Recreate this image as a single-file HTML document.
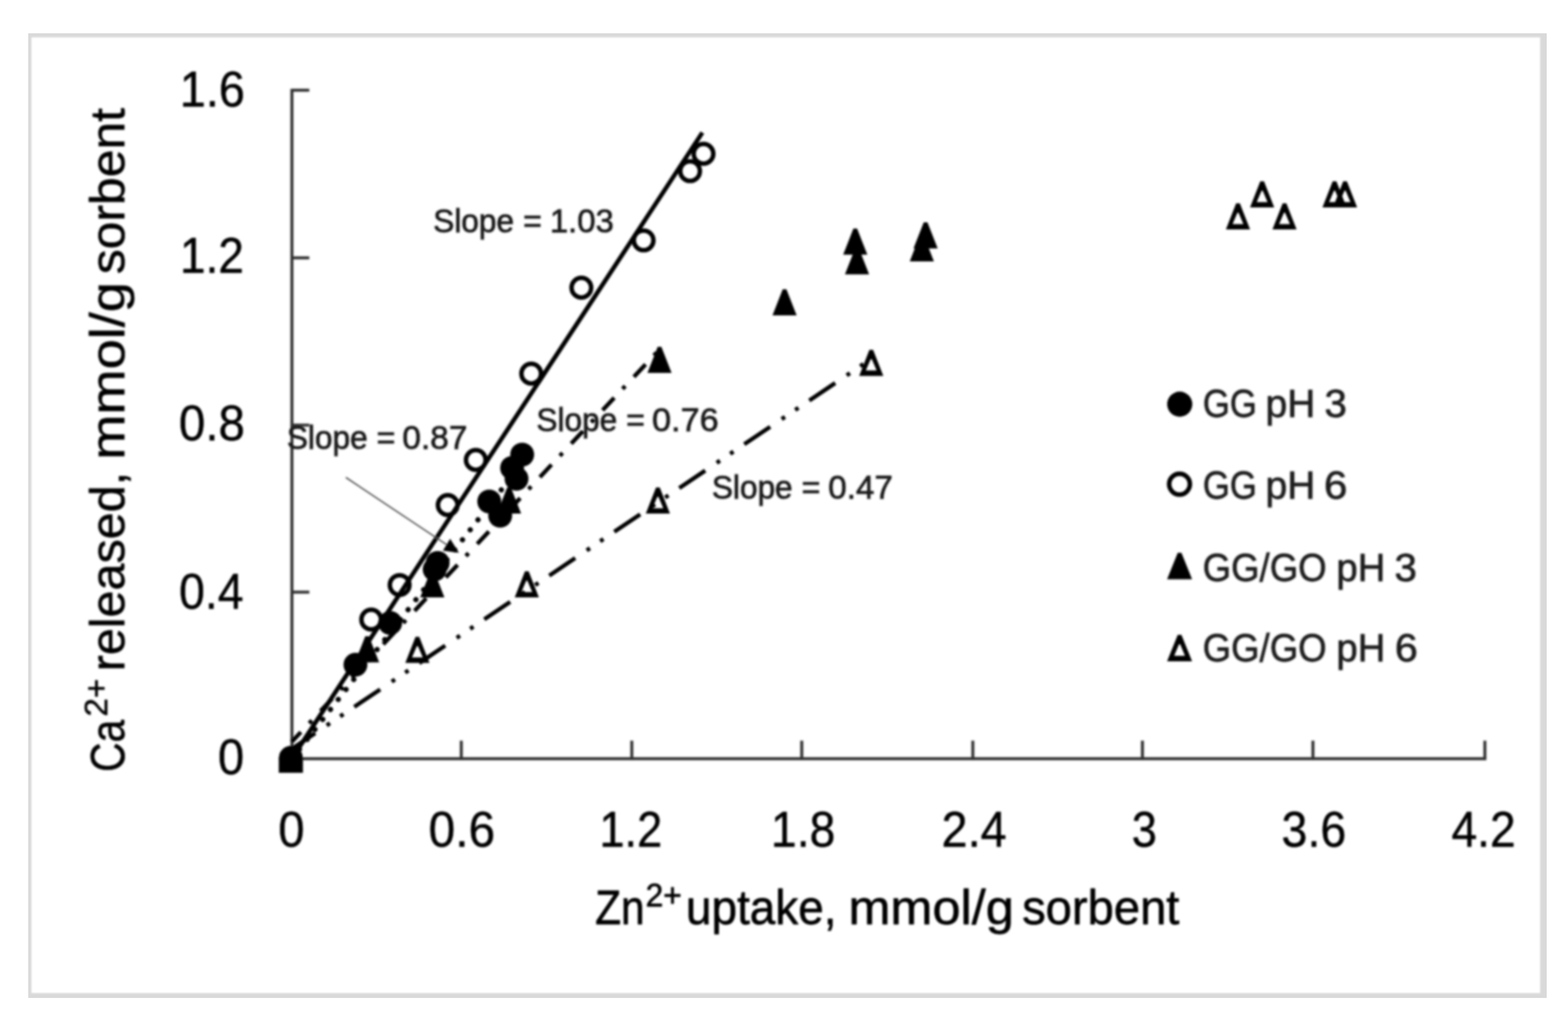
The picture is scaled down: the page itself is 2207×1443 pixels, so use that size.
<!DOCTYPE html>
<html lang="en">
<head>
<meta charset="utf-8">
<title>Ca2+ released vs Zn2+ uptake</title>
<style>
html,body{margin:0;padding:0;background:#fff;}
body{width:2207px;height:1443px;}
svg{display:block;font-family:"Liberation Sans",sans-serif;}
</style>
</head>
<body>
<svg width="2207" height="1443" viewBox="0 0 2207 1443">
<defs>
<filter id="soft" x="0" y="0" width="2207" height="1443" filterUnits="userSpaceOnUse"><feGaussianBlur stdDeviation="1.6"/></filter>
<filter id="soft2" x="0" y="0" width="2207" height="1443" filterUnits="userSpaceOnUse"><feGaussianBlur stdDeviation="1.3"/></filter>
</defs>
<rect width="2207" height="1443" fill="#fff"/>
<g id="frame"><rect x="39.7" y="46.8" width="2137.3" height="1358.1" fill="#d9d9d9"/>
<rect x="44.3" y="52.6" width="2123.4" height="1345.4" fill="#fff" filter="url(#soft2)"/></g>
<g filter="url(#soft)">
<g id="axes" stroke="#303030" stroke-width="4.2" fill="none" stroke-linecap="butt">
<path d="M410.9 124.9V1070.3"/>
<path d="M408.79999999999995 1068.2H2092.1"/>
<path d="M649.3 1068.2V1042.7"/>
<path d="M889.3 1068.2V1042.7"/>
<path d="M1128.5 1068.2V1042.7"/>
<path d="M1369.3 1068.2V1042.7"/>
<path d="M1608 1068.2V1042.7"/>
<path d="M1848 1068.2V1042.7"/>
<path d="M2090 1068.2V1042.7"/>
<path d="M410.9 833.6H435.4"/>
<path d="M410.9 598.5H435.4"/>
<path d="M410.9 363H435.4"/>
<path d="M410.9 127H435.4"/>
</g>
<g id="ticks" stroke="#000" stroke-width="0.6" stroke-linejoin="round">
<text font-size="69.6" fill="#000"><tspan x="253.05" y="150.00" textLength="91.77" lengthAdjust="spacingAndGlyphs">1.6</tspan></text>
<text font-size="69.6" fill="#000"><tspan x="253.14" y="384.30" textLength="90.12" lengthAdjust="spacingAndGlyphs">1.2</tspan></text>
<text font-size="69.6" fill="#000"><tspan x="251.82" y="620.30" textLength="93.03" lengthAdjust="spacingAndGlyphs">0.8</tspan></text>
<text font-size="69.6" fill="#000"><tspan x="251.88" y="856.50" textLength="90.93" lengthAdjust="spacingAndGlyphs">0.4</tspan></text>
<text font-size="69.6" fill="#000"><tspan x="306.64" y="1090.30" textLength="36.92" lengthAdjust="spacingAndGlyphs">0</tspan></text>
<text font-size="69.6" fill="#000"><tspan x="391.64" y="1191.50" textLength="36.92" lengthAdjust="spacingAndGlyphs">0</tspan></text>
<text font-size="69.6" fill="#000"><tspan x="603.31" y="1191.50" textLength="93.57" lengthAdjust="spacingAndGlyphs">0.6</tspan></text>
<text font-size="69.6" fill="#000"><tspan x="843.73" y="1191.50" textLength="88.47" lengthAdjust="spacingAndGlyphs">1.2</tspan></text>
<text font-size="69.6" fill="#000"><tspan x="1085.11" y="1191.50" textLength="90.68" lengthAdjust="spacingAndGlyphs">1.8</tspan></text>
<text font-size="69.6" fill="#000"><tspan x="1325.31" y="1191.50" textLength="91.51" lengthAdjust="spacingAndGlyphs">2.4</tspan></text>
<text font-size="69.6" fill="#000"><tspan x="1592.92" y="1191.50" textLength="35.36" lengthAdjust="spacingAndGlyphs">3</tspan></text>
<text font-size="69.6" fill="#000"><tspan x="1803.85" y="1191.50" textLength="90.95" lengthAdjust="spacingAndGlyphs">3.6</tspan></text>
<text font-size="69.6" fill="#000"><tspan x="2043.04" y="1191.50" textLength="90.22" lengthAdjust="spacingAndGlyphs">4.2</tspan></text>
</g>
<g id="xtitle" stroke="#000" stroke-width="0.9" stroke-linejoin="round">
<text font-size="68.8" fill="#000"><tspan x="837.66" y="1300.60" textLength="69.64" lengthAdjust="spacingAndGlyphs">Zn</tspan><tspan x="908.77" y="1276.40" font-size="46.6" textLength="50.87" lengthAdjust="spacingAndGlyphs">2+</tspan> <tspan x="965.60" y="1300.60" textLength="211.83" lengthAdjust="spacingAndGlyphs">uptake,</tspan> <tspan x="1194.21" y="1300.60" textLength="232.69" lengthAdjust="spacingAndGlyphs">mmol/g</tspan> <tspan x="1438.67" y="1300.60" textLength="221.36" lengthAdjust="spacingAndGlyphs">sorbent</tspan></text>
</g>
<g id="ytitle" stroke="#000" stroke-width="0.7" stroke-linejoin="round">
<text transform="rotate(-90)" font-size="68.8" fill="#000"><tspan x="-1086.68" y="174.50" textLength="73.53" lengthAdjust="spacingAndGlyphs">Ca</tspan><tspan x="-1008.73" y="151.00" font-size="45.6" textLength="53.06" lengthAdjust="spacingAndGlyphs">2+</tspan> <tspan x="-945.11" y="174.50" textLength="280.85" lengthAdjust="spacingAndGlyphs">released,</tspan> <tspan x="-647.36" y="174.50" textLength="250.40" lengthAdjust="spacingAndGlyphs">mmol/g</tspan> <tspan x="-386.13" y="174.50" textLength="234.09" lengthAdjust="spacingAndGlyphs">sorbent</tspan></text>
</g>
<g id="lines" fill="none" stroke="#000">
<path d="M410.5 1068.2L988.6 186.6" stroke-width="6.2"/>
<path d="M410.5 1069.0L741.0 644.1" stroke-width="7.4" stroke-linecap="round" stroke-dasharray="0.01 17.79"/>
<path d="M410.5 1044.5L928.0 492.3" stroke-width="5.8" stroke-dasharray="24 17.1 5.5 17.9" stroke-dashoffset="5"/>
<path d="M410.5 1054.5L1226.0 505.3" stroke-width="5.8" stroke-dasharray="44 19.5 5.5 17.4 5.5 18.4" stroke-dashoffset="4"/>
</g>
<g id="arrow">
<path d="M486.8 672.2L632 769" stroke="#4a4a4a" stroke-width="2" fill="none"/>
<path d="M646 778.2L623.4 775.2L633.6 758.6Z" fill="#000"/>
</g>
<g id="m1" fill="#000"><circle cx="409.4" cy="1066.8" r="16.8"/><circle cx="500.3" cy="935.8" r="16.8"/><circle cx="549.2" cy="877" r="16.8"/><circle cx="611.8" cy="801.6" r="16.8"/><circle cx="616" cy="792.5" r="16.8"/><circle cx="688.6" cy="706" r="16.8"/><circle cx="704" cy="726" r="16.8"/><circle cx="720.8" cy="658.7" r="16.8"/><circle cx="727" cy="674" r="16.8"/><circle cx="735" cy="640" r="16.8"/><path d="M392.4 1066H426.4V1087.7H392.4Z"/></g>
<g id="m2" fill="none" stroke="#000" stroke-width="6.3"><circle cx="990.2" cy="216.5" r="13.8"/><circle cx="971.3000000000001" cy="240.9" r="13.8"/><circle cx="905.9000000000001" cy="338.4" r="13.8"/><circle cx="818.3000000000001" cy="405" r="13.8"/><circle cx="747.7" cy="526" r="13.8"/><circle cx="669.7" cy="647.5" r="13.8"/><circle cx="630.2" cy="711" r="13.8"/><circle cx="562.5" cy="823.6" r="13.8"/><circle cx="522.5" cy="872.2" r="13.8"/></g>
<g id="m3" fill="#000"><path d="M406.8 1050.9H412.0L426.4 1087.7H392.4Z"/><path d="M514.1 895.7H519.3L533.7 932.5H499.7Z"/><path d="M605.9 804.2H611.1L625.5 841H591.5Z"/><path d="M713.9 686.2H719.1L733.5 723H699.5Z"/><path d="M925.7 488.2H930.9L945.3 525H911.3Z"/><path d="M1101.7 407.2H1106.9L1121.3 444H1087.3Z"/><path d="M1201.2 321.8H1206.4L1220.8 358.6H1186.8Z"/><path d="M1203.7 349.5H1208.9L1223.3 386.3H1189.3Z"/><path d="M1300.2 312.9H1305.4L1319.8 349.7H1285.8Z"/><path d="M1294.9 331.1H1300.1L1314.5 367.9H1280.5Z"/></g>
<g id="m4" fill="#000"><path fill-rule="evenodd" d="M584.9 896.4H590.1L604.5 933.2H570.5ZM586.7 909.8H588.3L595.1 925.6H579.9Z"/><path fill-rule="evenodd" d="M738.9 804.2H744.1L758.5 841H724.5ZM740.7 817.6H742.3L749.1 833.4H733.9Z"/><path fill-rule="evenodd" d="M923.4 686.2H928.6L943.0 723H909.0ZM925.2 699.6H926.8L933.6 715.4H918.4Z"/><path fill-rule="evenodd" d="M1223.7 492.4H1228.9L1243.3 529.2H1209.3ZM1225.5 505.8H1227.1L1233.9 521.6H1218.7Z"/><path fill-rule="evenodd" d="M1739.9 286.2H1745.1L1759.5 323H1725.5ZM1741.7 299.6H1743.3L1750.1 315.4H1734.9Z"/><path fill-rule="evenodd" d="M1773.9 255.2H1779.1L1793.5 292H1759.5ZM1775.7 268.6H1777.3L1784.1 284.4H1768.9Z"/><path fill-rule="evenodd" d="M1805.4 286.2H1810.6L1825.0 323H1791.0ZM1807.2 299.6H1808.8L1815.6 315.4H1800.4Z"/><path fill-rule="evenodd" d="M1875.8 255.2H1881.0L1895.4 292H1861.4ZM1877.6 268.6H1879.2L1886.0 284.4H1870.8Z"/><path fill-rule="evenodd" d="M1890.6 255.2H1895.8L1910.2 292H1876.2ZM1892.4 268.6H1894.0L1900.8 284.4H1885.6Z"/></g>
<g id="slopes" stroke="#1a1a1a" stroke-width="0.95" stroke-linejoin="round">
<text font-size="46.5" fill="#1a1a1a"><tspan x="609.80" y="327.00" textLength="113.70" lengthAdjust="spacingAndGlyphs">Slope</tspan> <tspan x="736.13" y="327.00" textLength="26.49" lengthAdjust="spacingAndGlyphs">=</tspan> <tspan x="773.94" y="327.00" textLength="89.89" lengthAdjust="spacingAndGlyphs">1.03</tspan></text>
<text font-size="46.5" fill="#1a1a1a"><tspan x="755.00" y="607.20" textLength="113.70" lengthAdjust="spacingAndGlyphs">Slope</tspan> <tspan x="881.33" y="607.20" textLength="26.49" lengthAdjust="spacingAndGlyphs">=</tspan> <tspan x="917.88" y="607.20" textLength="93.53" lengthAdjust="spacingAndGlyphs">0.76</tspan></text>
<text font-size="46.5" fill="#1a1a1a"><tspan x="403.70" y="631.60" textLength="113.70" lengthAdjust="spacingAndGlyphs">Slope</tspan> <tspan x="530.03" y="631.60" textLength="26.49" lengthAdjust="spacingAndGlyphs">=</tspan> <tspan x="566.32" y="631.60" textLength="91.49" lengthAdjust="spacingAndGlyphs">0.87</tspan></text>
<text font-size="46.5" fill="#1a1a1a"><tspan x="1001.90" y="701.90" textLength="113.70" lengthAdjust="spacingAndGlyphs">Slope</tspan> <tspan x="1128.23" y="701.90" textLength="26.49" lengthAdjust="spacingAndGlyphs">=</tspan> <tspan x="1165.83" y="701.90" textLength="90.97" lengthAdjust="spacingAndGlyphs">0.47</tspan></text>
</g>
<g id="legend">
<circle cx="1660.5" cy="569" r="17.7" fill="#000"/>
<circle cx="1660.2" cy="681.6" r="14.6" fill="none" stroke="#000" stroke-width="6.4"/>
<g fill="#000"><path d="M1657.7 778.2H1662.9L1677.9 815.4H1642.7Z"/><path fill-rule="evenodd" d="M1657.7 893.7H1662.9L1677.9 930.9H1642.7ZM1659.5 907.1H1661.1L1667.9 923.3H1652.7Z"/></g>
<g stroke="#1c1c1c" stroke-width="0.95" stroke-linejoin="round">
<text font-size="55.2" fill="#1c1c1c"><tspan x="1692.96" y="587.20" textLength="76.04" lengthAdjust="spacingAndGlyphs">GG</tspan> <tspan x="1781.23" y="587.20" textLength="70.14" lengthAdjust="spacingAndGlyphs">pH</tspan> <tspan x="1864.28" y="587.20" textLength="31.50" lengthAdjust="spacingAndGlyphs">3</tspan></text>
<text font-size="55.2" fill="#1c1c1c"><tspan x="1692.96" y="702.20" textLength="76.04" lengthAdjust="spacingAndGlyphs">GG</tspan> <tspan x="1781.23" y="702.20" textLength="70.14" lengthAdjust="spacingAndGlyphs">pH</tspan> <tspan x="1863.64" y="702.20" textLength="32.95" lengthAdjust="spacingAndGlyphs">6</tspan></text>
<text font-size="55.2" fill="#1c1c1c"><tspan x="1692.83" y="818.20" textLength="174.38" lengthAdjust="spacingAndGlyphs">GG/GO</tspan> <tspan x="1881.00" y="818.20" textLength="68.90" lengthAdjust="spacingAndGlyphs">pH</tspan> <tspan x="1962.77" y="818.20" textLength="31.61" lengthAdjust="spacingAndGlyphs">3</tspan></text>
<text font-size="55.2" fill="#1c1c1c"><tspan x="1692.83" y="930.80" textLength="174.38" lengthAdjust="spacingAndGlyphs">GG/GO</tspan> <tspan x="1881.00" y="930.80" textLength="68.90" lengthAdjust="spacingAndGlyphs">pH</tspan> <tspan x="1963.19" y="930.80" textLength="32.35" lengthAdjust="spacingAndGlyphs">6</tspan></text>
</g>
</g>
</g>
</svg>
</body>
</html>
